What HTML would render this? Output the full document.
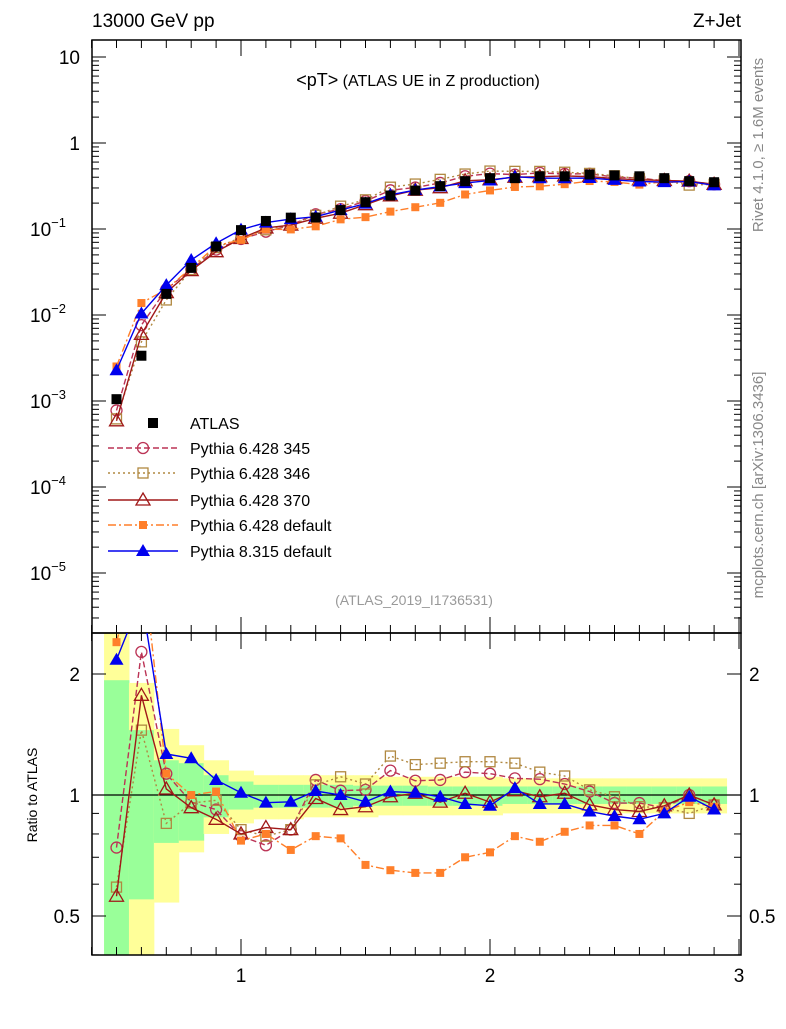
<!DOCTYPE html>
<html><head><meta charset="utf-8"><style>
body{margin:0;background:#fff}
svg text{font-family:"Liberation Sans",sans-serif}
</style></head><body>
<svg id="c" width="786" height="1024" xmlns="http://www.w3.org/2000/svg">
<defs>
<clipPath id="clipR"><rect x="92" y="633" width="649" height="322"/></clipPath>
<clipPath id="clipM"><rect x="92" y="40" width="649" height="593"/></clipPath>
</defs>
<g id="bands" clip-path="url(#clipR)"></g>
<g id="grid"></g>
<g id="series"></g>
<text x="92" y="27" font-size="19">13000 GeV pp</text>
<text x="741" y="27" font-size="19" text-anchor="end">Z+Jet</text>
<text x="418" y="86" text-anchor="middle"><tspan font-size="18">&lt;pT&gt;</tspan><tspan font-size="16"> (ATLAS UE in Z production)</tspan></text>
<text x="414" y="605" font-size="14" fill="#999" text-anchor="middle">(ATLAS_2019_I1736531)</text>
<text transform="translate(763,145) rotate(-90)" font-size="15" fill="#888" text-anchor="middle">Rivet 4.1.0, ≥ 1.6M events</text>
<text transform="translate(763,485) rotate(-90)" font-size="15" fill="#888" text-anchor="middle">mcplots.cern.ch [arXiv:1306.3436]</text>
<text transform="translate(37,795) rotate(-90)" font-size="14" text-anchor="middle">Ratio to ATLAS</text>
<g id="legend"></g>
</svg>
<script>
const xs=[0.5,0.6,0.7,0.8,0.9,1.0,1.1,1.2,1.3,1.4,1.5,1.6,1.7,1.8,1.9,2.0,2.1,2.2,2.3,2.4,2.5,2.6,2.7,2.8,2.9];
const atlas=[0.00105,0.00336,0.0176,0.0353,0.0626,0.097,0.124,0.1355,0.136,0.166,0.205,0.245,0.28,0.315,0.36,0.39,0.39,0.41,0.41,0.43,0.42,0.41,0.39,0.36,0.35];
const r345=[0.74,2.27,1.13,0.96,0.92,0.79,0.75,0.82,1.09,1.025,1.03,1.15,1.085,1.09,1.14,1.13,1.10,1.095,1.065,1.02,0.955,0.955,0.93,1.0,0.945];
const r346=[0.59,1.45,0.85,0.955,0.97,0.82,0.79,0.82,1.06,1.11,1.065,1.25,1.19,1.2,1.21,1.21,1.2,1.14,1.115,1.03,0.99,0.935,0.93,0.90,0.945];
const r370=[0.56,1.77,1.035,0.93,0.87,0.80,0.83,0.82,0.98,0.92,0.935,0.99,1.01,0.96,1.01,0.96,1.025,0.99,1.01,0.945,0.92,0.91,0.94,1.0,0.945];
const rdef6=[2.4,4.1,1.13,1.0,1.02,0.77,0.80,0.73,0.79,0.78,0.67,0.65,0.64,0.64,0.70,0.72,0.79,0.765,0.81,0.84,0.84,0.80,0.91,0.96,0.935];
const rdef8=[2.17,3.1,1.265,1.234,1.09,1.013,0.957,0.962,1.023,1.0,0.962,1.02,1.013,0.99,0.95,0.94,1.04,0.95,0.95,0.91,0.886,0.87,0.90,0.99,0.92];
const yelHi=[3,1.90,1.46,1.33,1.22,1.15,1.12,1.12,1.12,1.12,1.12,1.11,1.11,1.11,1.11,1.11,1.1,1.1,1.1,1.1,1.1,1.1,1.1,1.1,1.1];
const yelLo=[0.3,0.3,0.54,0.72,0.80,0.85,0.87,0.87,0.88,0.88,0.88,0.89,0.89,0.89,0.89,0.89,0.9,0.9,0.9,0.9,0.9,0.9,0.9,0.9,0.9];
const grnHi=[1.93,1.45,1.22,1.2,1.12,1.08,1.06,1.06,1.06,1.06,1.055,1.055,1.055,1.05,1.05,1.05,1.05,1.05,1.05,1.05,1.05,1.05,1.05,1.05,1.05];
const grnLo=[0.3,0.55,0.76,0.77,0.88,0.92,0.93,0.93,0.93,0.93,0.94,0.94,0.94,0.94,0.94,0.94,0.95,0.95,0.95,0.95,0.95,0.95,0.95,0.95,0.95];
const mainTicks=["10","1","10","10","10","10","10"];
const mainExp=[null,null,"−1","−2","−3","−4","−5"];
const mainVals=[1,0,-1,-2,-3,-4,-5];
const ratioTicks=["2","1","0.5"];
const ratioVals=[2,1,0.5];
const xTicks=["1","2","3"];
const xTickVals=[1,2,3];

const NS="http://www.w3.org/2000/svg";
const X=x=>241+(x-1)*249;
const YM=v=>143-86*Math.log10(v);
const YR=r=>795-121*Math.log2(r);
function el(tag,attrs,parent){const e=document.createElementNS(NS,tag);for(const k in attrs)e.setAttribute(k,attrs[k]);parent.appendChild(e);return e;}
const svg=document.getElementById('c');
const grid=document.getElementById('grid');
const bands=document.getElementById('bands');
const series=document.getElementById('series');

// bands
xs.forEach((x,i)=>{
  let r=el('rect',{x:X(x-0.05),y:YR(yelHi[i]),width:X(x+0.05)-X(x-0.05)+0.5,height:YR(yelLo[i])-YR(yelHi[i]),fill:'#ffff99'},bands);
  
  
  let g=el('rect',{x:X(x-0.05),y:YR(grnHi[i]),width:X(x+0.05)-X(x-0.05)+0.5,height:YR(grnLo[i])-YR(grnHi[i]),fill:'#99ff99'},bands);
  
  
});

// frames
el('rect',{x:92,y:40,width:649,height:593,fill:'none',stroke:'#000','stroke-width':1.5},grid);
el('rect',{x:92,y:633,width:649,height:322,fill:'none',stroke:'#000','stroke-width':1.5},grid);
el('line',{x1:92,x2:741,y1:YR(1),y2:YR(1),stroke:'#000','stroke-width':1.2},grid);
// main y ticks
for(let d=-6;d<=1;d++){
  for(let m=1;m<10;m++){
    const v=m*Math.pow(10,d);const y=YM(v);
    if(y<40||y>633)continue;
    const L=m==1?14:7;
    el('line',{x1:92,x2:92+L,y1:y,y2:y,stroke:'#000'},grid);
    el('line',{x1:741,x2:741-L,y1:y,y2:y,stroke:'#000'},grid);
  }
}
mainVals.forEach((d,i)=>{
  const t=el('text',{x:mainExp[i]?66:80,y:YM(Math.pow(10,d))+7,'font-size':19,'text-anchor':'end'},grid);
  
  
  t.textContent=mainTicks[i];
  if(mainExp[i]){const s=el('tspan',{'font-size':13,dy:-9},t);s.textContent=mainExp[i];}
});
// ratio ticks
[0.4,0.5,0.6,0.7,0.8,0.9,1,2].forEach(v=>{const y=YR(v);const L=(v==1||v==0.5||v==2)?14:7;
  el('line',{x1:92,x2:92+L,y1:y,y2:y,stroke:'#000'},grid);el('line',{x1:741,x2:741-L,y1:y,y2:y,stroke:'#000'},grid);});
ratioVals.forEach((v,i)=>{
  const t=el('text',{x:80,y:YR(v)+7,'font-size':19,'text-anchor':'end'},grid);
  
  
  t.textContent=ratioTicks[i];
  const t2=el('text',{x:749,y:YR(v)+7,'font-size':19},grid);
  
  
  t2.textContent=ratioTicks[i];
});
// x ticks
for(let k=4;k<=30;k++){const x=k/10;const px=X(x);const L=(k%10==0)?16:8;
  [[40,1],[633,-1],[633,1],[955,-1]].forEach(([y0,s])=>el('line',{x1:px,x2:px,y1:y0,y2:y0+s*L,stroke:'#000'},grid));}
xTickVals.forEach((v,i)=>{
  const t=el('text',{x:X(v),y:982,'font-size':19,'text-anchor':'middle'},grid);
  
  
  t.textContent=xTicks[i];
});

function marker(g,type,color,x,y){
  let m;
  if(type=='fsq') m=el('rect',{x:x-5,y:y-5,width:10,height:10,fill:color},g);
  else if(type=='osq') m=el('rect',{x:x-5,y:y-5,width:10,height:10,fill:'none',stroke:color,'stroke-width':1.3},g);
  else if(type=='osq2') m=el('rect',{x:x-4,y:y-4,width:8,height:8,fill:color},g);
  else if(type=='ocirc') m=el('circle',{cx:x,cy:y,r:5.5,fill:'none',stroke:color,'stroke-width':1.3},g);
  else if(type=='otri') m=el('path',{d:`M${x},${y-7}L${x+7},${y+5}L${x-7},${y+5}Z`,fill:'none',stroke:color,'stroke-width':1.3},g);
  else m=el('path',{d:`M${x},${y-7}L${x+7},${y+5}L${x-7},${y+5}Z`,fill:color},g);
  return m;
}
const models=[
 {name:'Pythia 6.428 345',r:r345,color:'#bb3355',dash:'6,3',mk:'ocirc',id:'pythia6-345'},
 {name:'Pythia 6.428 346',r:r346,color:'#b08840',dash:'2,3',mk:'osq',id:'pythia6-346'},
 {name:'Pythia 6.428 370',r:r370,color:'#a01818',dash:'',mk:'otri',id:'pythia6-370'},
 {name:'Pythia 6.428 default',r:rdef6,color:'#ff7f2a',dash:'8,3,2,3',mk:'osq2',id:'pythia6-default'},
 {name:'Pythia 8.315 default',r:rdef8,color:'#0000ee',dash:'',mk:'ftri',id:'pythia8-default'}
];
models.forEach(md=>{
  const vals=xs.map((x,i)=>atlas[i]*md.r[i]);
  const gm=el('g',{'clip-path':'url(#clipM)'},series);
  
  
  el('polyline',{points:xs.map((x,i)=>X(x)+','+YM(vals[i])).join(' '),fill:'none',stroke:md.color,'stroke-width':1.4,'stroke-dasharray':md.dash},gm);
  xs.forEach((x,i)=>{const m=marker(gm,md.mk,md.color,X(x),YM(vals[i]));
    
    });
  const gr=el('g',{'clip-path':'url(#clipR)'},series);
  
  
  el('polyline',{points:xs.map((x,i)=>X(x)+','+YR(vals[i]/atlas[i])).join(' '),fill:'none',stroke:md.color,'stroke-width':1.4,'stroke-dasharray':md.dash},gr);
  xs.forEach((x,i)=>{const m=marker(gr,md.mk,md.color,X(x),YR(vals[i]/atlas[i]));
    
    });
});
// ATLAS data
const ga=el('g',{'clip-path':'url(#clipM)'},series);


xs.forEach((x,i)=>{const m=marker(ga,'fsq','#000',X(x),YM(atlas[i]));
  
  });

// legend
const lg=document.getElementById('legend');
const ly=[423,448,473,500,525,551];
marker(lg,'fsq','#000',153,ly[0]);
let t0=el('text',{x:190,y:ly[0]+6,'font-size':16},lg);t0.textContent='ATLAS';


models.forEach((md,i)=>{const y=ly[i+1];
  el('line',{x1:108,x2:178,y1:y,y2:y,stroke:md.color,'stroke-width':1.4,'stroke-dasharray':md.dash},lg);
  marker(lg,md.mk,md.color,143,y);
  const t=el('text',{x:190,y:y+6,'font-size':16},lg);t.textContent=md.name;
  
  
});
</script>
</body></html>
